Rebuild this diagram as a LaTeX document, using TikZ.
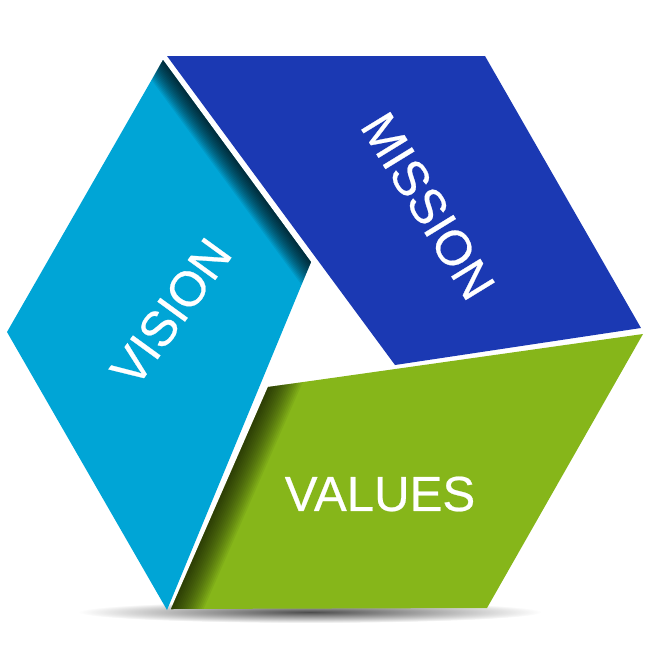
\documentclass[tikz,border=0pt]{standalone}
\usepackage{fontspec}
\setmainfont[FakeBold=0.5]{Liberation Sans}
\usetikzlibrary{calc}
\definecolor{VisionBlue}{RGB}{0,165,214}
\definecolor{MissionBlue}{RGB}{27,57,179}
\definecolor{ValuesGreen}{RGB}{134,182,26}

\begin{document}
\begin{tikzpicture}[x=.02cm,y=-.02cm,
  word/.style={text=white,font=\fontsize{28}{30}\selectfont}]
  \useasboundingbox (0,0) rectangle (650,650);
  % corners of the three panels
  \coordinate (vL) at (7,332);
  \coordinate (vT) at (163,60);
  \coordinate (vI) at (311,262);
  \coordinate (vB) at (167,610);
  \coordinate (mA) at (167,56);
  \coordinate (mB) at (485,56);
  \coordinate (mC) at (641,328);
  \coordinate (mD) at (395,365);
  \coordinate (gP) at (268,387);
  \coordinate (gQ) at (643,334);
  \coordinate (gR) at (487,608);
  \coordinate (gS) at (171,609);
  % floor shadow
  \shade[inner color=black!70,outer color=white] (310,612) ellipse [x radius=232,y radius=11];
  % vision
  \fill[VisionBlue] (vL)--(vT)--(vI)--(vB)--cycle;
  \begin{scope}
    \clip (vL)--(vT)--(vI)--(vB)--cycle;
    \foreach \w in {1.5,3,...,24}
      \draw[black,opacity=.07,line width=\w pt] ($(vT)!-.2!(vI)$)--($(vI)!-.2!(vT)$);
  \end{scope}
  % mission
  \fill[MissionBlue] (mA)--(mB)--(mC)--(mD)--cycle;
  % values
  \fill[ValuesGreen] (gP)--(gQ)--(gR)--(gS)--cycle;
  \begin{scope}
    \clip (gP)--(gQ)--(gR)--(gS)--cycle;
    \foreach \w in {2,4,...,34}
      \draw[black,opacity=.055,line width=\w pt] ($(gP)!-.2!(gS)$)--($(gS)!-.2!(gP)$);
  \end{scope}
  \node[word,rotate=54] (vision) at (171,312) {VISION};
  \node[word,rotate=-58.5] (mission) at (428,206) {MISSION};
  \node[word] (values) at (380,494) {VALUES};
\end{tikzpicture}
\end{document}
